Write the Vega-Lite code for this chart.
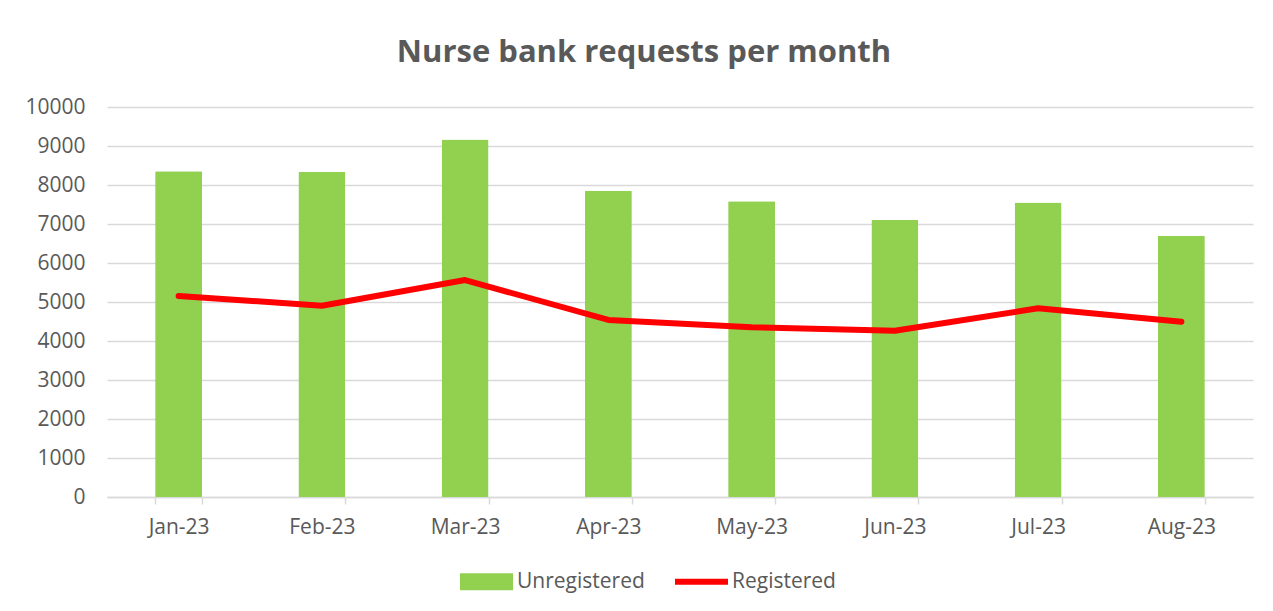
{
  "$schema": "https://vega.github.io/schema/vega-lite/v6.json",
  "width": 1146,
  "height": 390,
  "autosize": {"type": "none"},
  "padding": {"left": 107, "top": 107, "right": 20, "bottom": 114},
  "background": "white",
  "title": {
    "text": "Nurse bank requests per month",
    "anchor": "middle",
    "dx": -36,
    "offset": 27,
    "fontSize": 31,
    "font": "Open Sans",
    "fontWeight": "bold",
    "color": "#595959"
  },
  "data": {
    "values": [
      {"month": "Jan-23", "series": "Unregistered", "value": 8350},
      {"month": "Feb-23", "series": "Unregistered", "value": 8340},
      {"month": "Mar-23", "series": "Unregistered", "value": 9165},
      {"month": "Apr-23", "series": "Unregistered", "value": 7850},
      {"month": "May-23", "series": "Unregistered", "value": 7586},
      {"month": "Jun-23", "series": "Unregistered", "value": 7100},
      {"month": "Jul-23", "series": "Unregistered", "value": 7552},
      {"month": "Aug-23", "series": "Unregistered", "value": 6698},
      {"month": "Jan-23", "series": "Registered", "value": 5154},
      {"month": "Feb-23", "series": "Registered", "value": 4905},
      {"month": "Mar-23", "series": "Registered", "value": 5563},
      {"month": "Apr-23", "series": "Registered", "value": 4539},
      {"month": "May-23", "series": "Registered", "value": 4352},
      {"month": "Jun-23", "series": "Registered", "value": 4265},
      {"month": "Jul-23", "series": "Registered", "value": 4839},
      {"month": "Aug-23", "series": "Registered", "value": 4496}
    ]
  },
  "encoding": {
    "x": {
      "field": "month",
      "type": "ordinal",
      "sort": null,
      "title": null,
      "scale": {"paddingInner": 0.672, "paddingOuter": 0.336},
      "axis": {
        "labelAngle": 0,
        "labelFont": "Open Sans",
        "labelFontSize": 21,
        "labelColor": "#595959",
        "labelPadding": 12,
        "domainColor": "#d9d9d9",
        "domainWidth": 1.5,
        "tickColor": "#d9d9d9",
        "tickWidth": 1.5,
        "tickSize": 7,
        "tickBand": "extent",
        "grid": false
      }
    },
    "y": {
      "field": "value",
      "type": "quantitative",
      "title": null,
      "scale": {"domain": [0, 10000], "nice": false},
      "axis": {
        "values": [0, 1000, 2000, 3000, 4000, 5000, 6000, 7000, 8000, 9000, 10000],
        "format": "d",
        "domain": false,
        "ticks": false,
        "labelFont": "Open Sans",
        "labelFontSize": 21,
        "labelColor": "#595959",
        "labelPadding": 22,
        "gridColor": "#d9d9d9",
        "gridWidth": 1.5
      }
    },
    "color": {
      "field": "series",
      "type": "nominal",
      "scale": {"domain": ["Unregistered", "Registered"], "range": ["#92d050", "#ff0000"]},
      "legend": {
        "title": null,
        "orient": "none",
        "direction": "horizontal",
        "legendX": 353,
        "legendY": 448,
        "labelFont": "Open Sans",
        "labelFontSize": 21,
        "labelColor": "#595959",
        "labelOffset": 4,
        "columnPadding": 30,
        "symbolSize": 2809,
        "symbolStrokeWidth": 0,
        "encode": {
          "symbols": {
            "update": {
              "shape": {"signal": "datum.label === 'Registered' ? 'M-1,-0.11H1V0.11H-1Z' : 'M-1,-0.32H1V0.32H-1Z'"},
              "fill": {"signal": "datum.label === 'Registered' ? '#ff0000' : '#92d050'"},
              "strokeWidth": {"value": 0},
              "opacity": {"value": 1}
            }
          }
        }
      }
    }
  },
  "layer": [
    {
      "transform": [{"filter": "datum.series === 'Unregistered'"}],
      "mark": {"type": "bar", "cornerRadius": 1}
    },
    {
      "transform": [{"filter": "datum.series === 'Registered'"}],
      "mark": {"type": "line", "strokeWidth": 6, "strokeCap": "round", "strokeJoin": "round"}
    }
  ],
  "config": {
    "view": {"stroke": null}
  }
}
